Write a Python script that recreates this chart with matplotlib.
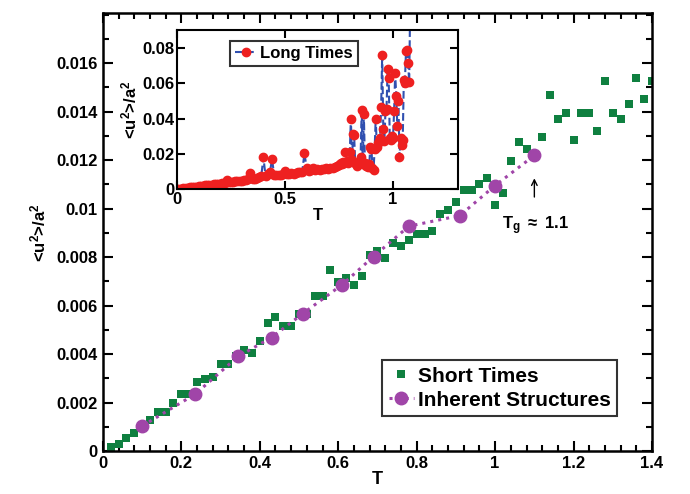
import matplotlib
matplotlib.use("Agg")
import matplotlib.pyplot as plt
from matplotlib.ticker import MultipleLocator, FixedLocator, FuncFormatter

plt.rcParams['font.family'] = ['Liberation Sans', 'DejaVu Sans']
plt.rcParams['font.weight'] = 'bold'
plt.rcParams['mathtext.fontset'] = 'custom'
plt.rcParams['mathtext.rm'] = 'Liberation Sans:bold'
plt.rcParams['mathtext.it'] = 'Liberation Sans:bold'
plt.rcParams['mathtext.bf'] = 'Liberation Sans:bold'

# short times (green squares)
short_T = [0.02, 0.04, 0.06, 0.08, 0.10, 0.12, 0.14, 0.16, 0.18, 0.20,
           0.22, 0.24, 0.26, 0.28, 0.30, 0.32, 0.34, 0.36, 0.38, 0.40,
           0.42, 0.44, 0.46, 0.48, 0.50, 0.52, 0.54, 0.56, 0.58, 0.60,
           0.62, 0.64, 0.66, 0.68, 0.70, 0.72, 0.74, 0.76, 0.78, 0.80,
           0.82, 0.84, 0.86, 0.88, 0.90, 0.92, 0.94, 0.96, 0.98, 1.00,
           1.02, 1.04, 1.06, 1.08, 1.10, 1.12, 1.14, 1.16, 1.18, 1.20,
           1.22, 1.24, 1.26, 1.28, 1.30, 1.32, 1.34, 1.36, 1.38, 1.40]
short_u = [0.00017, 0.00028, 0.00052, 0.00076, 0.00105, 0.00127, 0.00161, 0.00161, 0.00197, 0.00234,
           0.00234, 0.00285, 0.00296, 0.00307, 0.00358, 0.00358, 0.00393, 0.00417, 0.00406, 0.00455,
           0.00526, 0.00554, 0.00517, 0.00517, 0.00565, 0.00565, 0.00638, 0.00638, 0.00747, 0.00698,
           0.00712, 0.00686, 0.00722, 0.00810, 0.00824, 0.00796, 0.00858, 0.00846, 0.00871, 0.00894,
           0.00894, 0.00906, 0.00978, 0.00992, 0.01028, 0.01077, 0.01077, 0.01102, 0.01127, 0.01015,
           0.01065, 0.01198, 0.01273, 0.01247, 0.01220, 0.01296, 0.01467, 0.01368, 0.01394, 0.01284,
           0.01394, 0.01394, 0.01321, 0.01528, 0.01394, 0.01369, 0.01430, 0.01540, 0.01453, 0.01528]

# inherent structures (purple circles)
is_T = [0.10, 0.235, 0.345, 0.43, 0.51, 0.61, 0.69, 0.78, 0.91, 1.00, 1.10]
is_u = [0.00103, 0.00234, 0.00390, 0.00468, 0.00567, 0.00686, 0.00802, 0.00927, 0.00971, 0.01095, 0.01219]

# long times (inset)
long_T = [0.00, 0.01, 0.02, 0.03, 0.04, 0.05, 0.06, 0.07, 0.08, 0.09,
          0.10, 0.11, 0.12, 0.13, 0.14, 0.15, 0.16, 0.17, 0.18, 0.19,
          0.20, 0.21, 0.22, 0.23, 0.24, 0.25, 0.26, 0.27, 0.28, 0.29,
          0.30, 0.31, 0.32, 0.33, 0.34, 0.35, 0.36, 0.37, 0.38, 0.39,
          0.40, 0.41, 0.42, 0.43, 0.44, 0.45, 0.46, 0.47, 0.48, 0.49,
          0.50, 0.51, 0.52, 0.53, 0.54, 0.55, 0.56, 0.57, 0.58, 0.59,
          0.60, 0.61, 0.62, 0.63, 0.64, 0.65, 0.66, 0.67, 0.68, 0.69,
          0.70, 0.71, 0.72, 0.73, 0.74,
          0.750, 0.755, 0.760, 0.765, 0.770, 0.775, 0.780, 0.785, 0.790, 0.795,
          0.800, 0.805, 0.810, 0.815, 0.820, 0.825, 0.830, 0.835, 0.840, 0.845,
          0.850, 0.855, 0.860, 0.865, 0.870, 0.875, 0.880, 0.885, 0.890, 0.895,
          0.900, 0.905, 0.910, 0.915, 0.920, 0.925, 0.930, 0.935, 0.940, 0.945,
          0.950, 0.955, 0.960, 0.965, 0.970, 0.975, 0.980, 0.985, 0.990, 0.995,
          1.000, 1.005, 1.010, 1.015, 1.020, 1.025, 1.030, 1.035, 1.040, 1.045,
          1.050, 1.055, 1.060, 1.065, 1.070, 1.075, 1.080]
long_u = [0.0000, 0.0002, 0.0003, 0.0005, 0.0006, 0.0008, 0.0010, 0.0011, 0.0013, 0.0014,
          0.0016, 0.0018, 0.0019, 0.0021, 0.0022, 0.0024, 0.0026, 0.0027, 0.0029, 0.0030,
          0.0032, 0.0034, 0.0036, 0.0050, 0.0039, 0.0041, 0.0042, 0.0044, 0.0045, 0.0047,
          0.0049, 0.0051, 0.0052, 0.0055, 0.0092, 0.0058, 0.0060, 0.0062, 0.0068, 0.0072,
          0.0180, 0.0075, 0.0085, 0.0095, 0.0170, 0.0080, 0.0078, 0.0082, 0.0080, 0.0085,
          0.0102, 0.0085, 0.0088, 0.0090, 0.0088, 0.0092, 0.0095, 0.0098, 0.0100, 0.0205,
          0.0120, 0.0105, 0.0110, 0.0118, 0.0108, 0.0112, 0.0110, 0.0115, 0.0112, 0.0118,
          0.0115, 0.0120, 0.0122, 0.0125, 0.0130,
          0.0135, 0.0140, 0.0150, 0.0145, 0.0155, 0.0150, 0.0210, 0.0160, 0.0150, 0.0160,
          0.0210, 0.0400, 0.0165, 0.0315, 0.0305, 0.0150, 0.0140, 0.0130, 0.0150, 0.0160,
          0.0180, 0.0450, 0.0140, 0.0425, 0.0150, 0.0130, 0.0145, 0.0125, 0.0140, 0.0240,
          0.0230, 0.0120, 0.0110, 0.0230, 0.0400, 0.0240, 0.0260, 0.0270, 0.0290, 0.0465,
          0.0760, 0.0340, 0.0270, 0.0440, 0.0455, 0.0680, 0.0630, 0.0290, 0.0280, 0.0300,
          0.0290, 0.0440, 0.0655, 0.0530, 0.0360, 0.0500, 0.0183, 0.0290, 0.0250, 0.0280,
          0.0618, 0.0600, 0.0780, 0.0785, 0.0712, 0.0605, 0.1100]

y_ticks = [0, 0.002, 0.004, 0.006, 0.008, 0.01, 0.012, 0.014, 0.016]

green = '#0f8040'
purple = '#a045a8'

fig = plt.figure(figsize=(6.9, 4.94), dpi=100)
ax = fig.add_axes([0.149, 0.087, 0.796, 0.886])

ax.plot(short_T, short_u, 's', color=green, markersize=5.8, markeredgewidth=0, label='Short Times', zorder=2)
ax.plot(is_T, is_u, ':', color=purple, linewidth=2.2, marker='o', markersize=9, label='Inherent Structures', zorder=3)

ax.set_xlim(0, 1.4)
ax.set_ylim(0, 0.01805)
ax.xaxis.set_major_locator(MultipleLocator(0.2))
ax.xaxis.set_minor_locator(MultipleLocator(0.04))
ax.yaxis.set_major_locator(FixedLocator(y_ticks))
ax.yaxis.set_minor_locator(MultipleLocator(0.001))
ax.xaxis.set_major_formatter(FuncFormatter(lambda v, p: '%g' % round(v, 3)))
ax.yaxis.set_major_formatter(FuncFormatter(lambda v, p: '%g' % round(v, 4)))
ax.tick_params(which='both', direction='in', top=True, right=True, width=1.5, labelsize=12)
ax.tick_params(which='major', length=7)
ax.tick_params(which='minor', length=4)
for s in ax.spines.values():
    s.set_linewidth(1.8)
ax.set_xlabel('T', fontsize=13, fontweight='bold', labelpad=0)
ax.set_ylabel(r'<u$^2$>/a$^2$', fontsize=12, fontweight='bold', labelpad=6)

leg = ax.legend(loc='lower right', bbox_to_anchor=(0.936, 0.08), fontsize=15, frameon=True,
                fancybox=False, handlelength=1.2, handletextpad=0.2, borderpad=0.3,
                labelspacing=0.25, borderaxespad=0)
leg.get_frame().set_edgecolor('black')
leg.get_frame().set_linewidth(1.5)

ax.annotate('', xy=(1.1, 0.01136), xytext=(1.1, 0.01036),
            arrowprops=dict(arrowstyle='->', color='black', lw=1))
ax.text(1.017, 0.0093, r'T$_\mathregular{g}$ $\approx$ 1.1', fontsize=12, fontweight='bold',
        va='center', ha='left')

# inset
ins = fig.add_axes([0.2565, 0.617, 0.407, 0.322])
ins.plot(long_T, long_u, '--', color='#3050b0', linewidth=1.5, marker='o', markersize=6,
         markerfacecolor='#ee2020', markeredgecolor='#ee2020', label='Long Times')
ins.set_xlim(0, 1.3)
ins.set_ylim(0, 0.09)
ins.xaxis.set_major_locator(MultipleLocator(0.5))
ins.yaxis.set_major_locator(MultipleLocator(0.02))
ins.xaxis.set_major_formatter(FuncFormatter(lambda v, p: '%g' % round(v, 2)))
ins.yaxis.set_major_formatter(FuncFormatter(lambda v, p: '%g' % round(v, 3)))
ins.tick_params(which='both', direction='in', top=True, right=True, width=1.5, length=6, labelsize=12, pad=2)
for s in ins.spines.values():
    s.set_linewidth(1.5)
ins.set_xlabel('T', fontsize=12, fontweight='bold', labelpad=1)
ins.set_ylabel(r'<u$^2$>/a$^2$', fontsize=12, fontweight='bold', labelpad=2)
il = ins.legend(loc='upper left', bbox_to_anchor=(0.189, 0.931), fontsize=12, frameon=True,
                fancybox=False, handlelength=1.3, handletextpad=0.2, borderpad=0.3, borderaxespad=0)
il.get_frame().set_edgecolor('black')
il.get_frame().set_linewidth(1.5)

fig.savefig('out.png', dpi=100)
